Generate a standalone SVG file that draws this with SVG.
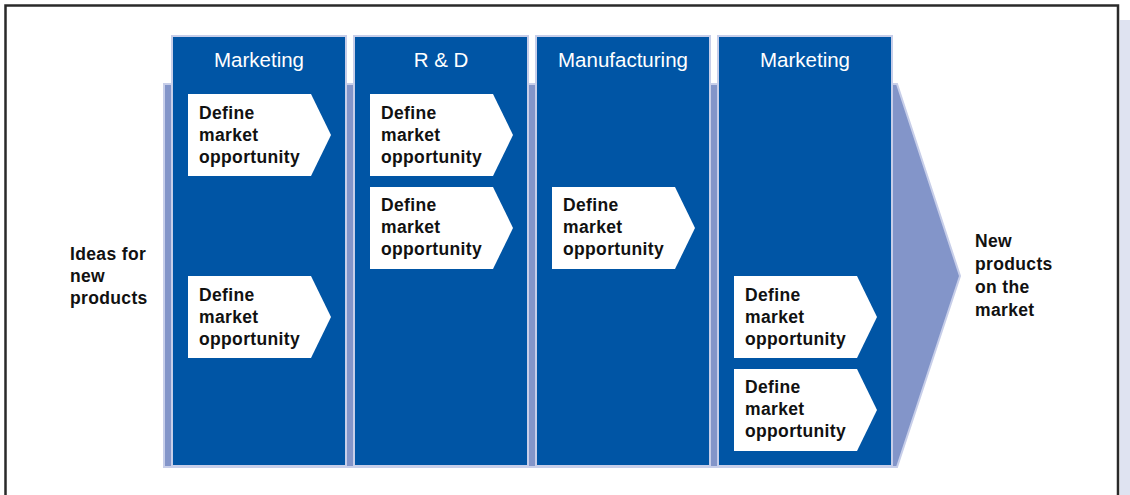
<svg xmlns="http://www.w3.org/2000/svg" width="1130" height="495" viewBox="0 0 1130 495">
<style>
.col{fill:#0055a5;stroke:#c7cee9;stroke-width:2}
.box{fill:#ffffff}
.hdr{font-family:"Liberation Sans",Arial,sans-serif;font-size:20.5px;fill:#ffffff;text-anchor:middle}
.lbl{font-family:"Liberation Sans",Arial,sans-serif;font-size:17.5px;font-weight:bold;fill:#111111;letter-spacing:0.35px}
</style>
<rect x="0" y="0" width="1130" height="495" fill="#ffffff"/>
<rect x="1120" y="20" width="10" height="475" fill="#dfe3f1"/>
<path d="M5.5,500 V5.5 H1118 V500" fill="none" stroke="#2a2a2a" stroke-width="2.5"/>
<g id="flow-arrow">
<path d="M164,84 H897 L960,276 L897,467 H164 Z" fill="#8395c9" stroke="#c7cee9" stroke-width="2"/>
</g>
<g id="input">
<text class="lbl" x="70" y="260">Ideas for</text>
<text class="lbl" x="70" y="282">new</text>
<text class="lbl" x="70" y="304">products</text>
</g>
<g id="output">
<text class="lbl" x="975" y="247">New</text>
<text class="lbl" x="975" y="270">products</text>
<text class="lbl" x="975" y="293">on the</text>
<text class="lbl" x="975" y="316">market</text>
</g>
<g id="col-marketing-1">
<rect class="col" x="172" y="36" width="174" height="430"/>
<text class="hdr" x="259" y="67">Marketing</text>
</g>
<g id="col-rd">
<rect class="col" x="354" y="36" width="174" height="430"/>
<text class="hdr" x="441" y="67">R &amp; D</text>
</g>
<g id="col-manufacturing">
<rect class="col" x="536" y="36" width="174" height="430"/>
<text class="hdr" x="623" y="67">Manufacturing</text>
</g>
<g id="col-marketing-2">
<rect class="col" x="718" y="36" width="174" height="430"/>
<text class="hdr" x="805" y="67">Marketing</text>
</g>
<defs>
<path id="chev" d="M0,0 H123 L143,41 L123,82 H0 Z"/>
</defs>
<g id="task-1">
<use href="#chev" x="188" y="94" class="box"/>
<text class="lbl" x="199" y="119">Define</text>
<text class="lbl" x="199" y="141">market</text>
<text class="lbl" x="199" y="163">opportunity</text>
</g>
<g id="task-2">
<use href="#chev" x="188" y="276" class="box"/>
<text class="lbl" x="199" y="301">Define</text>
<text class="lbl" x="199" y="323">market</text>
<text class="lbl" x="199" y="345">opportunity</text>
</g>
<g id="task-3">
<use href="#chev" x="370" y="94" class="box"/>
<text class="lbl" x="381" y="119">Define</text>
<text class="lbl" x="381" y="141">market</text>
<text class="lbl" x="381" y="163">opportunity</text>
</g>
<g id="task-4">
<use href="#chev" x="370" y="187" class="box"/>
<text class="lbl" x="381" y="211">Define</text>
<text class="lbl" x="381" y="233">market</text>
<text class="lbl" x="381" y="255">opportunity</text>
</g>
<g id="task-5">
<use href="#chev" x="552" y="187" class="box"/>
<text class="lbl" x="563" y="211">Define</text>
<text class="lbl" x="563" y="233">market</text>
<text class="lbl" x="563" y="255">opportunity</text>
</g>
<g id="task-6">
<use href="#chev" x="734" y="276" class="box"/>
<text class="lbl" x="745" y="301">Define</text>
<text class="lbl" x="745" y="323">market</text>
<text class="lbl" x="745" y="345">opportunity</text>
</g>
<g id="task-7">
<use href="#chev" x="734" y="369" class="box"/>
<text class="lbl" x="745" y="393">Define</text>
<text class="lbl" x="745" y="415">market</text>
<text class="lbl" x="745" y="437">opportunity</text>
</g>
<g id="connectors"></g>
</svg>
